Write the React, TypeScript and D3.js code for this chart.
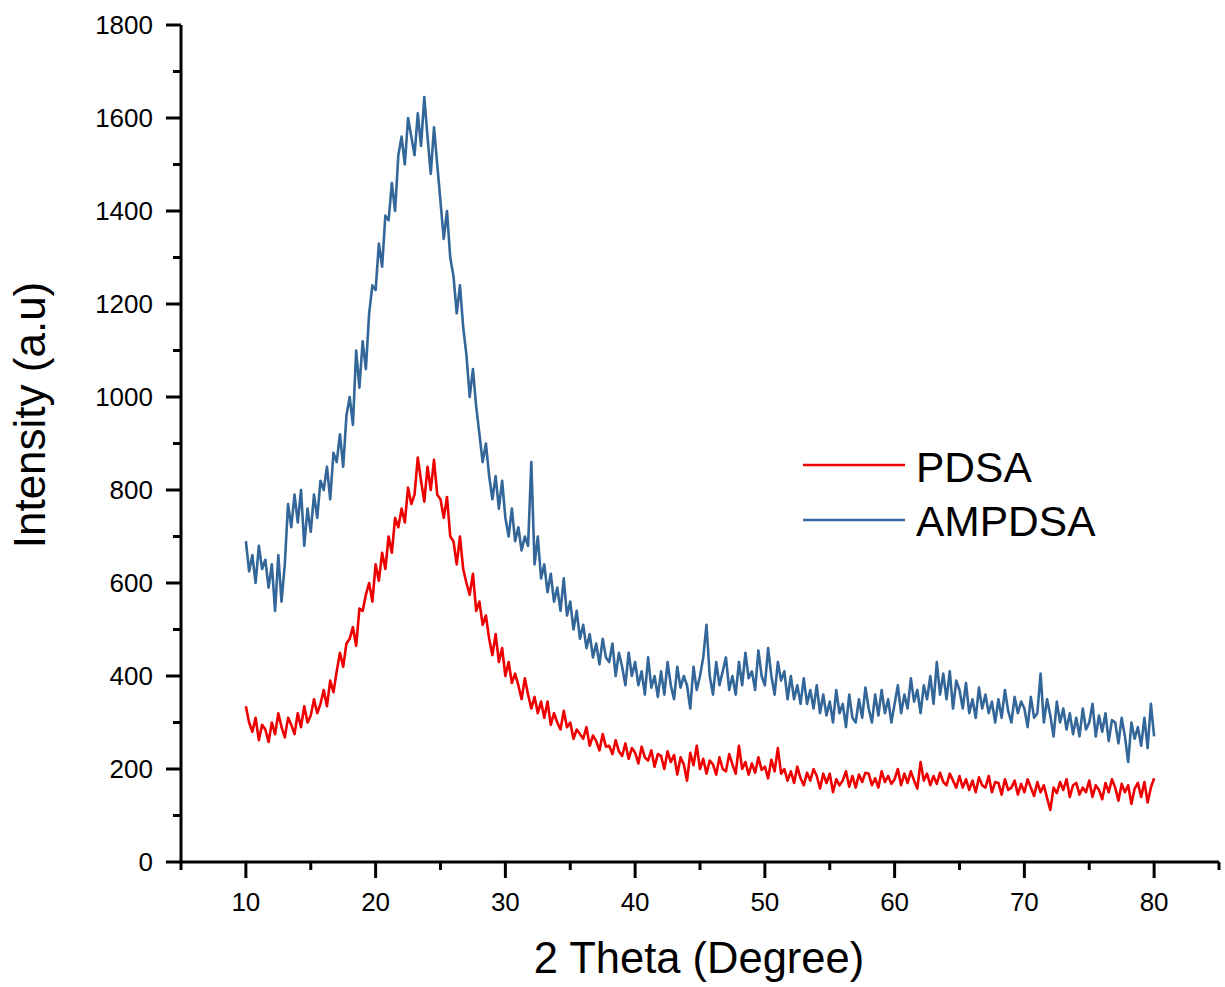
import React from "react";
import * as d3 from "d3";

const xStart = 10;
const xStep = 0.25;

const pdsa: number[] = [
  335, 300, 280, 310, 262, 295, 285, 258, 300, 275, 320, 290, 268, 310, 295, 275,
  320, 290, 335, 300, 315, 350, 320, 340, 370, 335, 390, 365, 410, 450, 420, 470,
  480, 505, 465, 545, 540, 575, 600, 560, 640, 605, 665, 630, 700, 665, 740, 720,
  760, 730, 805, 770, 790, 870, 820, 775, 850, 800, 865, 790, 780, 740, 785, 700,
  690, 640, 700, 630, 600, 575, 620, 540, 560, 510, 530, 480, 445, 490, 430, 460,
  400, 430, 385, 405, 380, 350, 395, 360, 330, 355, 320, 345, 310, 345, 295, 320,
  300, 285, 325, 290, 300, 265, 285, 275, 265, 290, 250, 272, 260, 240, 275, 248,
  250, 232, 262, 238, 228, 255, 222, 245, 235, 212, 248, 225, 218, 240, 205, 232,
  228, 200, 238, 215, 230, 188, 225, 210, 175, 235, 208, 250, 200, 222, 190, 218,
  210, 188, 225, 200, 195, 232, 210, 190, 250, 200, 215, 188, 212, 192, 225, 198,
  205, 180, 220, 195, 245, 190, 200, 175, 195, 170, 205, 180, 165, 192, 175, 200,
  185, 158, 190, 170, 190, 150, 178, 165, 175, 195, 162, 185, 160, 188, 172, 192,
  190, 165, 180, 160, 195, 172, 185, 168, 178, 200, 165, 190, 170, 195, 175, 158,
  215, 175, 190, 165, 185, 168, 192, 172, 165, 190, 175, 160, 185, 160, 178, 155,
  175, 150, 182, 165, 160, 185, 150, 172, 170, 145, 178, 155, 160, 175, 145, 168,
  150, 178, 160, 142, 172, 150, 165, 138, 112, 160, 148, 172, 155, 178, 140, 165,
  170, 145, 160, 150, 175, 140, 165, 155, 135, 170, 150, 178, 160, 132, 168, 150,
  165, 125, 158, 170, 140, 172, 128, 160, 180,
];

const ampdsa: number[] = [
  690, 625, 660, 600, 680, 630, 650, 590, 640, 540, 660, 560, 640, 770, 720, 790,
  730, 800, 680, 760, 710, 790, 740, 820, 800, 850, 780, 880, 860, 920, 850, 960,
  1000, 940, 1100, 1020, 1120, 1060, 1180, 1240, 1230, 1330, 1280, 1390, 1380, 1460, 1400, 1520,
  1560, 1500, 1600, 1560, 1520, 1610, 1540, 1645, 1560, 1480, 1580, 1500, 1420, 1340, 1400, 1300,
  1260, 1180, 1240, 1150, 1090, 1000, 1060, 980, 920, 860, 900, 830, 780, 830, 760, 820,
  740, 700, 760, 690, 720, 670, 700, 680, 860, 640, 700, 610, 640, 580, 620, 560,
  590, 540, 610, 530, 560, 500, 540, 480, 510, 460, 490, 440, 470, 425, 480, 440,
  430, 470, 400, 450, 420, 380, 450, 400, 430, 380, 410, 360, 440, 375, 400, 355,
  410, 360, 430, 380, 350, 420, 375, 400, 380, 330, 420, 370, 400, 440, 510, 400,
  360, 430, 380, 410, 440, 370, 400, 360, 430, 380, 450, 395, 410, 370, 455, 400,
  380, 460, 400, 360, 430, 390, 410, 350, 400, 350, 380, 340, 395, 340, 370, 330,
  380, 320, 360, 315, 345, 300, 370, 320, 340, 290, 360, 310, 300, 350, 310, 375,
  330, 300, 360, 315, 370, 320, 350, 300, 340, 380, 320, 360, 330, 395, 345, 370,
  320, 380, 350, 400, 340, 430, 360, 405, 350, 410, 330, 390, 370, 330, 385, 320,
  350, 310, 375, 330, 360, 320, 345, 300, 350, 310, 370, 325, 300, 355, 320, 345,
  330, 290, 355, 310, 320, 405, 300, 350, 315, 270, 345, 300, 330, 285, 320, 275,
  310, 270, 330, 285, 300, 340, 270, 315, 280, 320, 260, 305, 300, 255, 310, 270,
  215, 300, 265, 290, 250, 310, 245, 340, 270,
];

const seriesNames = ["PDSA", "AMPDSA"];
const seriesColors = ["#ee0000", "#336699"];
const xMajorTicks = [10, 20, 30, 40, 50, 60, 70, 80];
const xMinorTicks = [5, 15, 25, 35, 45, 55, 65, 75, 85];
const yMajorTicks = [0, 200, 400, 600, 800, 1000, 1200, 1400, 1600, 1800];
const yMinorTicks = [100, 300, 500, 700, 900, 1100, 1300, 1500, 1700];

const W = 1225;
const H = 987;
const FONT = "'Liberation Sans', Arial, Helvetica, sans-serif";

export default function App() {
  const x = d3.scaleLinear().domain([5, 85]).range([181, 1219]);
  const y = d3.scaleLinear().domain([0, 1800]).range([862, 25]);
  const x0 = x(5);
  const y0 = y(0);

  const line = d3
    .line<number>()
    .x((_, i) => x(xStart + i * xStep))
    .y((d) => y(d));

  const data = [pdsa, ampdsa];

  return (
    <svg
      width={W}
      height={H}
      style={{ position: "absolute", left: 0, top: 0, background: "#fff" }}
      fontFamily={FONT}
    >
      <rect width={W} height={H} fill="#fff" />
      {data.map((d, i) => (
        <path
          key={seriesNames[i]}
          d={line(d) || ""}
          fill="none"
          stroke={seriesColors[i]}
          strokeWidth={2.6}
          strokeLinejoin="round"
        />
      ))}

      <line x1={x0} y1={y0} x2={x(85)} y2={y0} stroke="#000" strokeWidth={3} />
      <line x1={x0} y1={y0 + 1.5} x2={x0} y2={y(1800)} stroke="#000" strokeWidth={3} />

      {xMajorTicks.map((t) => (
        <g key={"xm" + t}>
          <line x1={x(t)} x2={x(t)} y1={y0} y2={y0 + 16} stroke="#000" strokeWidth={3} />
          <text x={x(t)} y={911} textAnchor="middle" fontSize={26} fill="#000">
            {t}
          </text>
        </g>
      ))}
      {xMinorTicks.map((t) => (
        <line key={"xn" + t} x1={x(t)} x2={x(t)} y1={y0} y2={y0 + 8} stroke="#000" strokeWidth={3} />
      ))}
      {yMajorTicks.map((t) => (
        <g key={"ym" + t}>
          <line x1={x0 - 15} x2={x0} y1={y(t)} y2={y(t)} stroke="#000" strokeWidth={3} />
          <text x={153} y={y(t) + 9} textAnchor="end" fontSize={26} fill="#000">
            {t}
          </text>
        </g>
      ))}
      {yMinorTicks.map((t) => (
        <line key={"yn" + t} x1={x0 - 8} x2={x0} y1={y(t)} y2={y(t)} stroke="#000" strokeWidth={3} />
      ))}

      <text x={699} y={973} textAnchor="middle" fontSize={43.5} fill="#000">
        2 Theta (Degree)
      </text>
      <text
        transform={`translate(45,415) rotate(-90)`}
        textAnchor="middle"
        fontSize={44}
        fill="#000"
      >
        Intensity (a.u)
      </text>

      {seriesNames.map((n, i) => (
        <g key={"lg" + n}>
          <line
            x1={803}
            x2={905}
            y1={465 + i * 55}
            y2={465 + i * 55}
            stroke={seriesColors[i]}
            strokeWidth={2.5}
          />
          <text x={916} y={482 + i * 54} fontSize={42.5} fill="#000">
            {n}
          </text>
        </g>
      ))}
    </svg>
  );
}
